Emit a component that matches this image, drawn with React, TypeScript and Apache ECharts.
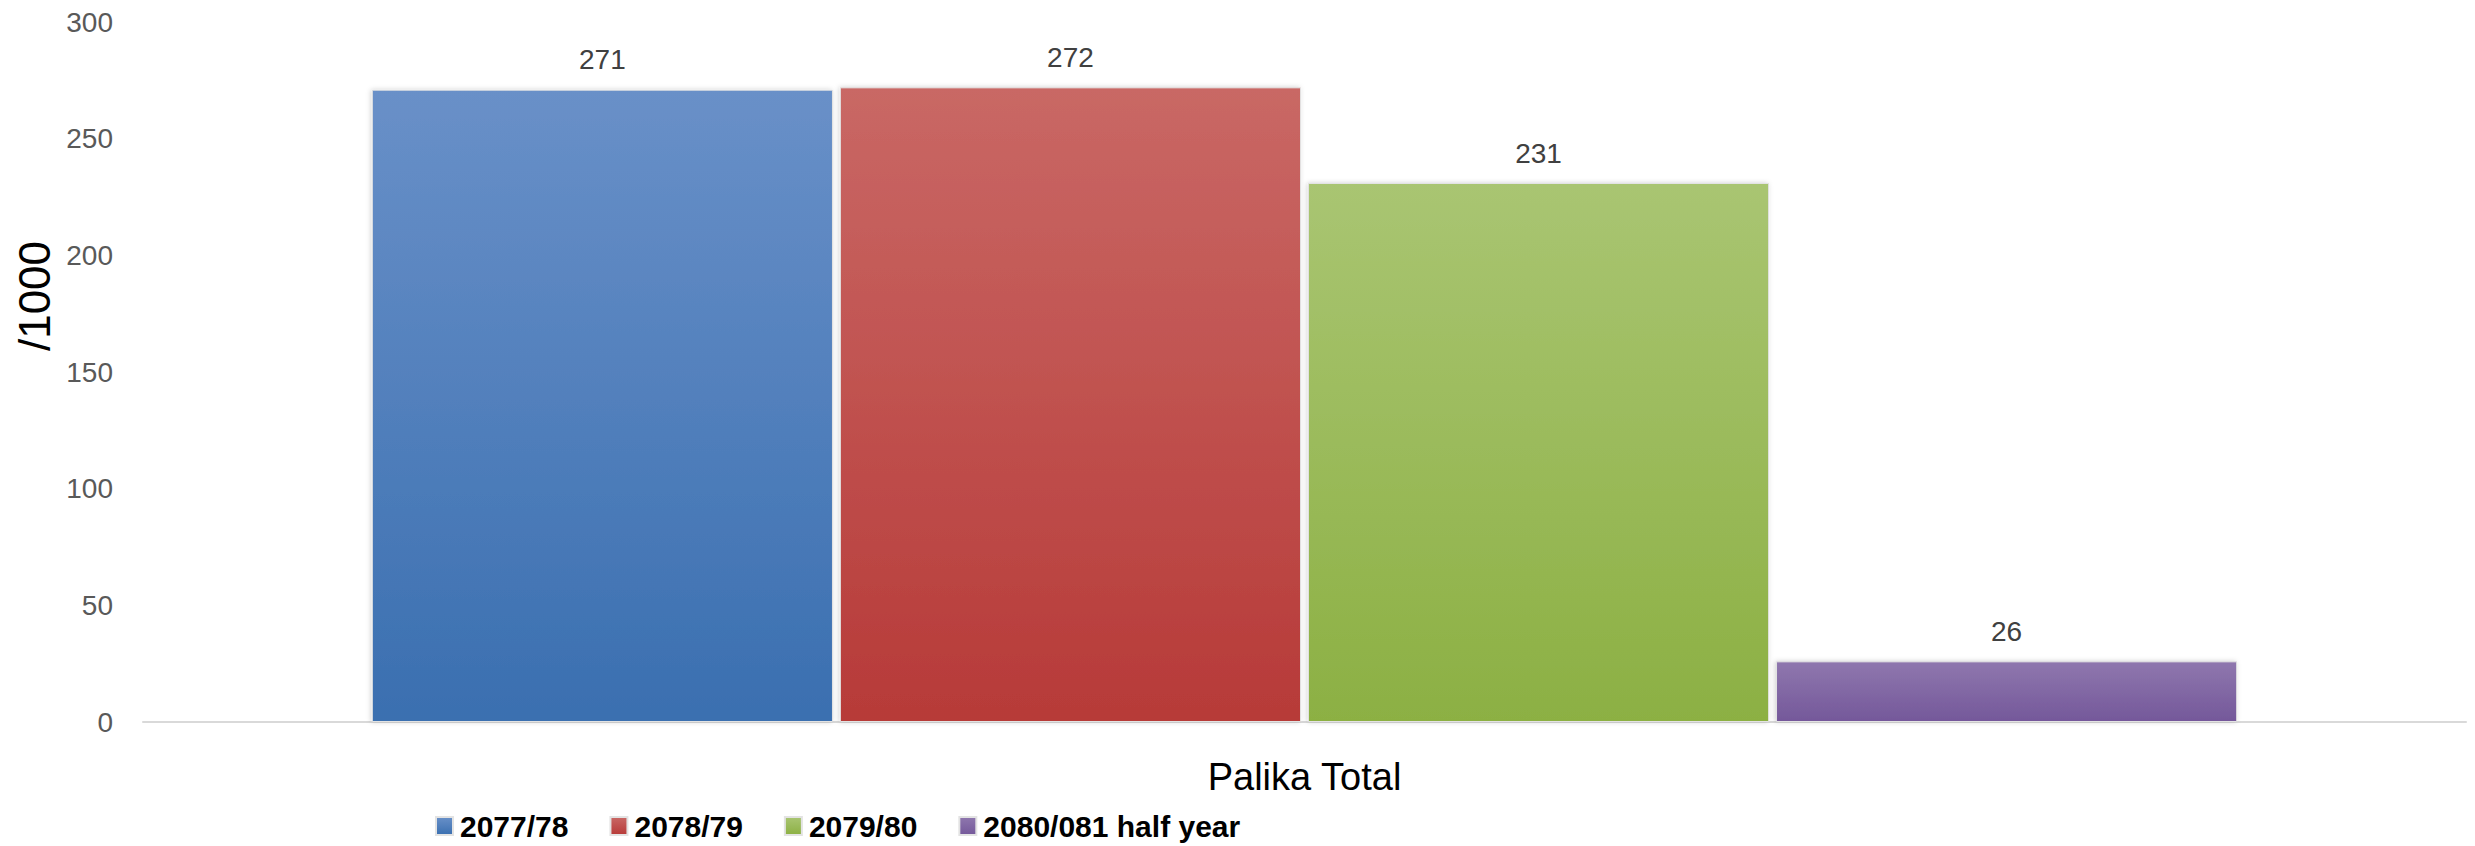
import React, { useEffect, useRef } from "react";
import * as echarts from "echarts";

const categories = ["Palika Total"];
const seriesNames = ["2077/78", "2078/79", "2079/80", "2080/081 half year"];
const values2077 = [271];
const values2078 = [272];
const values2079 = [231];
const values2080 = [26];
const seriesValues = [values2077, values2078, values2079, values2080];
const topColors = ["#6990c8", "#c96865", "#a9c572", "#8f77ae"];
const bottomColors = ["#3a6fb0", "#b73a38", "#8cb043", "#74589a"];
const yTitle = "/1000";

export default function App() {
  const ref = useRef<HTMLDivElement>(null);
  useEffect(() => {
    document.body.style.margin = "0";
    if (!ref.current) return;
    const chart = echarts.init(ref.current, undefined, { renderer: "svg" });
    const font = "'Liberation Sans', Arial, sans-serif";
    chart.setOption({
      animation: false,
      backgroundColor: "#ffffff",
      textStyle: { fontFamily: font },
      grid: { left: 143, right: 9, top: 22, bottom: 124, containLabel: false },
      legend: {
        left: 435,
        top: 811,
        padding: 0,
        itemWidth: 17,
        itemHeight: 18,
        itemGap: 41,
        icon: "rect",
        textStyle: {
          fontFamily: font,
          fontSize: 30,
          fontWeight: "bold",
          color: "#000000",
          padding: [0, 0, 0, 2],
        },
        data: seriesNames,
      },
      xAxis: {
        type: "category",
        data: categories,
        axisLine: { show: true, lineStyle: { color: "#d9d9d9", width: 2 } },
        axisTick: { show: false },
        axisLabel: {
          fontFamily: font,
          fontSize: 38,
          color: "#000000",
          margin: 36,
        },
        splitLine: { show: false },
      },
      yAxis: {
        type: "value",
        min: 0,
        max: 300,
        interval: 50,
        axisLine: { show: false },
        axisTick: { show: false },
        splitLine: { show: false },
        axisLabel: {
          fontFamily: font,
          fontSize: 28,
          color: "#595959",
          margin: 30,
        },
      },
      graphic: [
        {
          type: "text",
          x: 34,
          y: 296,
          rotation: Math.PI / 2,
          style: {
            text: yTitle,
            fontFamily: font,
            fontSize: 44,
            fill: "#000000",
            textAlign: "center",
            textVerticalAlign: "middle",
          },
        },
      ],
      series: seriesNames.map((name, i) => ({
        name,
        type: "bar",
        data: seriesValues[i],
        barGap: "1.5%",
        barCategoryGap: "19.7%",
        itemStyle: {
          color: new echarts.graphic.LinearGradient(0, 0, 0, 1, [
            { offset: 0, color: topColors[i] },
            { offset: 1, color: bottomColors[i] },
          ]),
          borderColor: "#e3e3e3",
          borderWidth: 1,
          shadowColor: "rgba(0,0,0,0.18)",
          shadowBlur: 5,
          shadowOffsetX: -1,
        },
        label: {
          show: true,
          position: "top",
          distance: 16,
          fontFamily: font,
          fontSize: 28,
          color: "#404040",
        },
      })),
    });
    return () => chart.dispose();
  }, []);
  return <div ref={ref} style={{ width: 2475, height: 846 }} />;
}
